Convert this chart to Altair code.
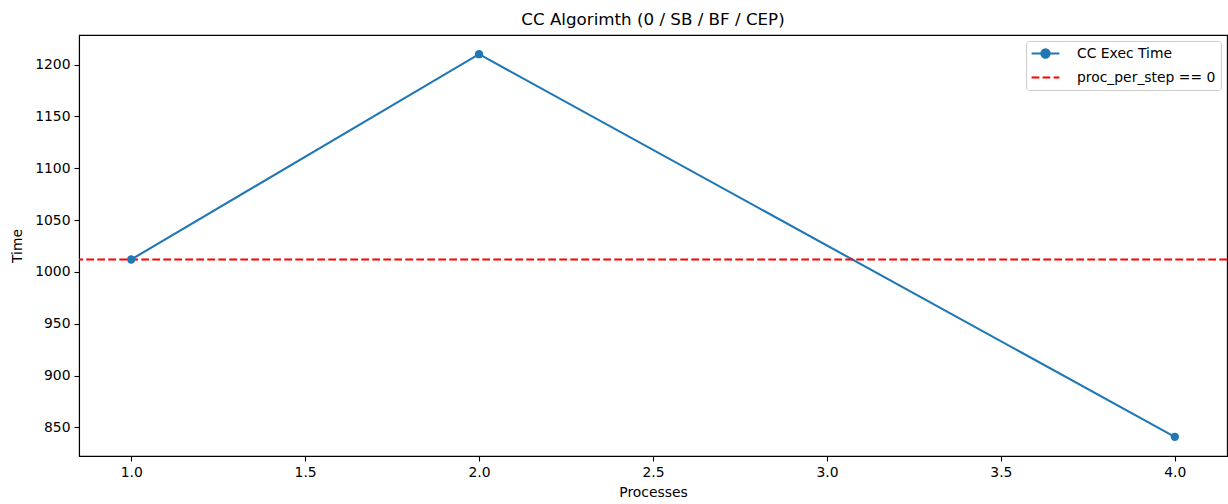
import altair as alt
import pandas as pd

# ---- data ----
processes = [1, 2, 4]
exec_time = [1012, 1210, 841]
baseline_time = [1012]
series_names = ["CC Exec Time", "proc_per_step == 0"]
series_colors = ["#1f77b4", "#ff0000"]
x_ticks = [1.0, 1.5, 2.0, 2.5, 3.0, 3.5, 4.0]
y_ticks = [850, 900, 950, 1000, 1050, 1100, 1150, 1200]

df = pd.DataFrame({"Processes": processes, "Time": exec_time})
base_df = pd.DataFrame({"Time": baseline_time})
leg_df = pd.DataFrame({"series": series_names})

FONT = "DejaVu Sans"
BLUE = series_colors[0]
LW = 2.08

# legend symbol paths (unit = sqrt(size)/2 = 6px)
line_marker_path = (
    "M-2.317,0L2.317,0"
    "M0.695,0A0.695,0.695,0,1,1,-0.695,0A0.695,0.695,0,1,1,0.695,0Z"
)
dash_path = "M-2.317,0L-1.033,0M-0.483,0L0.8,0M1.35,0L2.317,0"

xscale = alt.Scale(domain=[0.85, 4.15], nice=False, zero=False)
yscale = alt.Scale(domain=[822.5, 1228.5], nice=False, zero=False)

line = alt.Chart(df).mark_line(color=BLUE, strokeWidth=LW).encode(
    x=alt.X(
        "Processes:Q",
        scale=xscale,
        axis=alt.Axis(
            values=x_ticks,
            format=".1f",
            title="Processes",
            titleY=36,
            titleBaseline="middle",
        ),
    ),
    y=alt.Y(
        "Time:Q",
        scale=yscale,
        axis=alt.Axis(
            values=y_ticks,
            format="d",
            title="Time",
            titleX=-62,
            titleY=210.5,
            titleAngle=-90,
            titleAlign="center",
            titleBaseline="middle",
        ),
    ),
)

pts = alt.Chart(df).mark_point(filled=True, color=BLUE, size=70, opacity=1).encode(
    x="Processes:Q", y="Time:Q"
)

rule = alt.Chart(base_df).mark_rule(
    color="red", strokeWidth=LW, strokeDash=[7.7, 3.3]
).encode(y="Time:Q")

# legend-only layer (zero-size marks, only its legend is visible)
leg = alt.Chart(leg_df).mark_point(filled=True, opacity=1, size=0).encode(
    fill=alt.Fill(
        "series:N",
        scale=alt.Scale(domain=series_names, range=series_colors),
        legend=alt.Legend(
            title=None,
            orient="top-right",
            offset=6,
            padding=5,
            symbolOffset=7,
            labelOffset=24,
            rowPadding=8,
            symbolSize=144,
            symbolStrokeWidth=LW,
            symbolOpacity=1,
            labelFont=FONT,
            labelFontSize=13.9,
            labelColor="black",
            strokeColor="#cccccc",
            fillColor="white",
            cornerRadius=3,
        ),
    ),
    stroke=alt.Stroke(
        "series:N",
        scale=alt.Scale(domain=series_names, range=series_colors),
        legend=alt.Legend(title=None),
    ),
    shape=alt.Shape(
        "series:N",
        scale=alt.Scale(domain=series_names, range=[line_marker_path, dash_path]),
        legend=alt.Legend(title=None),
    ),
)

chart = (
    alt.layer(line, rule, pts, leg)
    .properties(
        width=1148,
        height=421,
        padding={"left": 79, "top": 35, "right": 1, "bottom": 48},
        autosize=alt.AutoSizeParams(type="none"),
        title=alt.TitleParams(
            "CC Algorimth (0 / SB / BF / CEP)",
            font=FONT,
            fontSize=16.7,
            fontWeight="normal",
            color="black",
            anchor="middle",
            offset=6,
        ),
    )
    .configure_view(stroke="black", strokeWidth=1.1)
    .configure_axis(
        grid=False,
        labelFont=FONT,
        labelFontSize=13.9,
        labelColor="black",
        titleFont=FONT,
        titleFontSize=13.9,
        titleFontWeight="normal",
        titleColor="black",
        tickColor="black",
        tickSize=5,
        tickWidth=1.1,
        domainColor="black",
        domainWidth=1.1,
        labelPadding=4,
    )
)

chart.save("out.html", embed_options={"renderer": "svg", "actions": False})
